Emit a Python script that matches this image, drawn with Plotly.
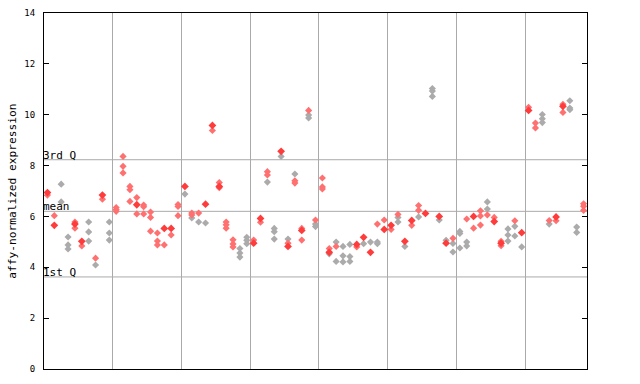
import plotly.graph_objects as go

# sample index (0-based) and expression values per marker style
red_filled_idx = [0, 1, 4, 5, 8, 13, 17, 18, 20, 23, 24, 25, 30, 31, 34, 35, 37,
                  41, 45, 46, 47, 49, 50, 52, 53, 55, 57, 58, 62, 65, 66, 69, 70, 74, 75]
red_filled_val = [6.94, 5.65, 5.70, 5.02, 6.84, 6.46, 5.53, 5.53, 7.18, 6.48, 9.58, 7.18, 4.95, 5.92, 8.56, 4.82, 5.45,
                  4.59, 4.90, 5.18, 4.59, 5.49, 5.65, 5.02, 5.84, 6.12, 6.00, 4.95, 6.00, 5.80, 4.95, 5.36, 10.17, 5.98, 10.33]

red_open_idx = [0, 1, 4, 4, 5, 7, 8,
                10, 10, 10, 11, 11, 11, 12, 12, 12, 13, 13, 14, 14, 14, 15, 15, 15, 16, 16, 16, 17, 18, 19, 19, 19,
                21, 21, 22, 24, 25, 25, 26, 26, 26, 27, 27, 27,
                30, 31, 32, 32, 35, 36, 36, 37, 37, 38, 39,
                40, 40, 40, 41, 42, 45, 48, 49,
                50, 51, 53, 54, 54, 59,
                61, 62, 63, 63, 63, 64, 65, 66, 66, 68,
                70, 71, 71, 73, 74, 75, 75, 78, 78, 78]
red_open_val = [6.84, 6.03, 5.78, 5.54, 4.84, 4.36, 6.68,
                6.35, 6.27, 6.20, 8.36, 7.97, 7.71, 7.18, 7.05, 6.59, 6.74, 6.10, 6.45, 6.38, 6.10, 6.17, 5.96, 5.42, 5.35, 5.03, 4.88, 4.88, 5.27, 6.47, 6.39, 6.03,
                6.13, 6.06, 6.13, 9.38, 7.33, 7.13, 5.78, 5.67, 5.54, 5.08, 4.92, 4.80,
                5.07, 5.77, 7.76, 7.63, 4.95, 7.40, 7.31, 5.53, 5.07, 10.17, 5.86,
                7.51, 7.16, 7.08, 4.74, 4.82, 4.80, 5.70, 5.86,
                5.49, 6.08, 5.65, 6.43, 6.24, 5.14,
                5.90, 5.54, 6.22, 6.02, 5.66, 6.06, 5.96, 5.02, 4.85, 5.83,
                10.29, 9.67, 9.48, 5.84, 5.83, 10.41, 10.09, 6.50, 6.40, 6.24]

gray_idx = [2, 2, 3, 3, 3, 6, 6, 6, 7, 9, 9, 9,
            20, 21, 22, 23, 28, 28, 28, 29, 29, 29,
            32, 33, 33, 33, 34, 35, 36, 38, 38, 39, 39,
            41, 42, 42, 43, 43, 43, 44, 44, 44, 46, 47, 48, 48,
            51, 51, 52, 54, 56, 56, 56, 57, 58, 59, 59,
            60, 60, 60, 61, 61, 64, 64, 67, 67, 67, 68, 68, 69,
            72, 72, 72, 73, 76, 76, 76, 77, 77]
gray_val = [7.27, 6.57, 5.19, 4.88, 4.72, 5.78, 5.39, 5.03, 4.09, 5.78, 5.35, 5.07,
            6.88, 5.94, 5.78, 5.74, 4.74, 4.56, 4.40, 5.18, 5.06, 4.93,
            7.35, 5.53, 5.40, 5.11, 8.36, 5.11, 7.67, 9.99, 9.87, 5.70, 5.60,
            4.53, 4.99, 4.23, 4.82, 4.45, 4.21, 4.90, 4.42, 4.23, 4.93, 4.99, 4.99, 4.93,
            5.96, 5.78, 4.82, 5.98, 11.03, 10.93, 10.72, 5.86, 5.06, 4.94, 4.60,
            5.41, 5.33, 4.76, 4.99, 4.84, 6.57, 6.29, 5.51, 5.27, 5.03, 5.61, 5.23, 4.80,
            10.01, 9.84, 9.69, 5.70, 10.55, 10.26, 10.20, 5.58, 5.37]

n_samples = 79
group_bounds = [10, 20, 30, 40, 50, 60, 70]
y_ticks = [0, 2, 4, 6, 8, 10, 12, 14]
stat_names = ["3rd Q", "mean", "1st Q"]
stat_vals = [8.23, 6.20, 3.62]

FONT = "DejaVu Sans Mono"

fig = go.Figure()
fig.add_trace(go.Scatter(x=[i + 0.5 for i in gray_idx], y=gray_val, mode="markers",
                         marker=dict(symbol="diamond", size=5.5, color="#ababab", line=dict(width=0)),
                         showlegend=False, hoverinfo="skip"))
fig.add_trace(go.Scatter(x=[i + 0.5 for i in red_open_idx], y=red_open_val, mode="markers",
                         marker=dict(symbol="diamond", size=5.5, color="#ff7070", line=dict(width=0)),
                         showlegend=False, hoverinfo="skip"))
fig.add_trace(go.Scatter(x=[i + 0.5 for i in red_filled_idx], y=red_filled_val, mode="markers",
                         marker=dict(symbol="diamond", size=6, color="#ff3c3c", line=dict(width=0)),
                         showlegend=False, hoverinfo="skip"))

for name, v in zip(stat_names, stat_vals):
    fig.add_shape(type="line", xref="paper", x0=0, x1=1, yref="y", y0=v, y1=v,
                  line=dict(color="#aaaaaa", width=1), layer="below")
    fig.add_annotation(x=0, xref="paper", y=v, yref="y", text=name, showarrow=False,
                       xanchor="left", yanchor="bottom", xshift=-3, yshift=-4,
                       font=dict(family=FONT, size=11, color="black"))

fig.add_annotation(x=-0.0595, xref="paper", y=0.5, yref="paper", text="affy-normalized expression",
                   textangle=-90, showarrow=False, xanchor="center", yanchor="middle",
                   font=dict(family=FONT, size=11.2, color="black"))

fig.update_layout(
    width=640, height=384,
    margin=dict(l=44, r=53, t=13, b=15, autoexpand=False),
    plot_bgcolor="white", paper_bgcolor="white",
    hovermode=False,
    xaxis=dict(range=[0, n_samples], tickvals=group_bounds, showticklabels=False, ticks="",
               showgrid=True, gridcolor="#aaaaaa", gridwidth=1, zeroline=False, automargin=False,
               showline=True, linecolor="black", linewidth=1, mirror=True),
    yaxis=dict(range=[0, 14], tickvals=y_ticks, ticks="inside", ticklen=5, tickcolor="black",
               showgrid=False, zeroline=False, showline=True, linecolor="black", linewidth=1,
               mirror="ticks", ticklabelstandoff=6, automargin=False,
               tickfont=dict(family=FONT, size=9, color="black")),
)

# remove the page's default body margin so the figure fills the window exactly
fig.write_html("out.html", config={"displayModeBar": False},
               post_script="document.body.style.margin='0';")
